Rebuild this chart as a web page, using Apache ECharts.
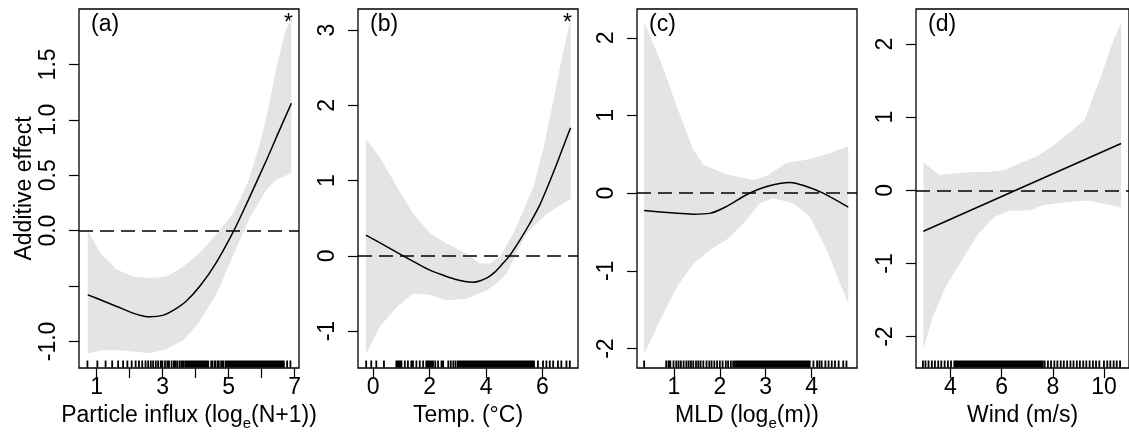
<!DOCTYPE html>
<html>
<head>
<meta charset="utf-8">
<script src="https://cdn.jsdelivr.net/npm/echarts@6/dist/echarts.min.js"></script>
<style>html,body{margin:0;padding:0;background:#fff}#c{width:1129px;height:441px}</style>
</head>
<body>
<div id="c"></div>
<script>
// ---------- data ----------
const panelLabels = ['(a)', '(b)', '(c)', '(d)'];
const panelStars = [true, true, false, false];
const yTitle = 'Additive effect';
const xTitleParts = [
  ['Particle influx (log', 'e', '(N+1))'],
  ['Temp. (°C)', '', ''],
  ['MLD (log', 'e', '(m))'],
  ['Wind (m/s)', '', '']
];
const xTicksA = [1, 2, 3, 4, 5, 6, 7];
const xLabelsA = [1, 3, 5, 7];
const xTicksB = [0, 2, 4, 6];
const xTicksC = [1, 2, 3, 4];
const xTicksD = [4, 6, 8, 10];
const yTicksA = [-1, -0.5, 0, 0.5, 1, 1.5];
const yLabelsA = [-1, 0, 0.5, 1, 1.5];
const yTicksB = [-1, 0, 1, 2, 3];
const yTicksC = [-2, -1, 0, 1, 2];
const yTicksD = [-2, -1, 0, 1, 2];

const lineA = [[0.73,-0.58],[1.2,-0.635],[1.61,-0.685],[2.1,-0.745],[2.4,-0.77],[2.62,-0.778],[3.0,-0.765],[3.32,-0.72],[3.7,-0.64],[4.13,-0.5],[4.6,-0.3],[5.14,-0.01],[5.6,0.28],[6.15,0.64],[6.5,0.88],[6.9,1.15]];
const upperA = [[0.73,0.0],[1.1,-0.2],[1.6,-0.35],[2.11,-0.415],[2.6,-0.43],[3.12,-0.415],[3.6,-0.33],[4.13,-0.2],[4.6,-0.04],[5.14,0.157],[5.6,0.45],[5.95,0.79],[6.2,1.1],[6.45,1.48],[6.7,1.78],[6.9,1.93]];
const lowerA = [[0.73,-1.107],[1.2,-1.08],[1.61,-1.08],[2.1,-1.09],[2.62,-1.107],[3.1,-1.07],[3.62,-0.99],[4.1,-0.83],[4.64,-0.565],[5.14,-0.22],[5.65,0.126],[6.15,0.37],[6.45,0.46],[6.9,0.52]];

const lineB = [[-0.26,0.275],[0.4,0.14],[1.06,0.0],[1.55,-0.1],[2.01,-0.19],[2.5,-0.26],[2.9,-0.31],[3.25,-0.34],[3.55,-0.35],[3.8,-0.33],[4.05,-0.29],[4.3,-0.22],[4.55,-0.12],[4.85,0.01],[5.2,0.21],[5.55,0.43],[5.91,0.68],[6.4,1.12],[6.91,1.62],[7.0,1.7]];
const upperB = [[-0.26,1.55],[0.24,1.31],[0.83,0.92],[1.42,0.56],[2.01,0.30],[2.6,0.165],[3.3,0.03],[3.78,-0.1],[4.14,-0.1],[4.5,-0.01],[4.97,0.30],[5.3,0.58],[5.68,0.92],[6.05,1.45],[6.39,2.07],[6.7,2.65],[7.0,3.15]];
const lowerB = [[-0.26,-1.30],[0.24,-0.94],[0.83,-0.68],[1.42,-0.5],[2.01,-0.52],[2.6,-0.59],[3.3,-0.57],[4.02,-0.46],[4.4,-0.36],[4.73,-0.235],[5.1,0.05],[5.44,0.30],[6.15,0.56],[7.0,0.76]];

const lineC = [[0.35,-0.224],[1.06,-0.26],[1.42,-0.27],[1.78,-0.26],[2.15,-0.17],[2.58,-0.02],[3.02,0.086],[3.53,0.138],[3.89,0.086],[4.25,0.0],[4.8,-0.18]];
const upperC = [[0.35,2.2],[0.695,1.72],[1.06,1.12],[1.42,0.56],[1.64,0.37],[2.15,0.24],[2.73,0.17],[3.02,0.22],[3.46,0.39],[3.89,0.43],[4.33,0.5],[4.8,0.6]];
const lowerC = [[0.35,-2.07],[0.695,-1.64],[1.06,-1.21],[1.42,-0.91],[1.78,-0.73],[2.15,-0.6],[2.58,-0.345],[2.87,-0.13],[3.16,-0.065],[3.6,-0.13],[3.96,-0.3],[4.33,-0.73],[4.62,-1.16],[4.8,-1.42]];

const lineD = [[2.94,-0.56],[10.67,0.64]];
const upperD = [[2.94,0.38],[3.18,0.32],[3.56,0.21],[4.19,0.23],[4.82,0.25],[5.45,0.25],[6.08,0.275],[6.71,0.37],[7.34,0.46],[7.98,0.6],[8.61,0.78],[9.24,0.96],[9.87,1.55],[10.37,2.05],[10.67,2.28]];
const lowerD = [[2.94,-2.17],[3.3,-1.74],[3.81,-1.32],[4.44,-0.96],[5.07,-0.6],[5.7,-0.365],[6.33,-0.275],[7.09,-0.275],[7.6,-0.205],[8.61,-0.16],[9.36,-0.14],[10.67,-0.23]];

const rugA = [0.72,1.02,1.27,1.47,1.65,1.80,1.93,2.06,2.18,2.28,2.38,2.48,2.56,2.64,2.71,2.79,2.86,2.94,2.99,3.07,3.14,3.19,3.27,3.34,3.39,3.45,3.52,3.58,3.62,3.68,3.73,3.78,3.83,3.88,3.92,3.96,4.00,4.03,4.06,4.09,4.12,4.15,4.18,4.21,4.24,4.27,4.31,4.35,4.38,4.47,4.50,4.57,4.60,4.67,4.70,4.77,4.80,4.84,4.91,4.95,4.99,5.03,5.07,5.11,5.15,5.19,5.23,5.27,5.31,5.35,5.39,5.43,5.47,5.51,5.55,5.59,5.63,5.67,5.71,5.75,5.79,5.83,5.87,5.91,5.95,5.99,6.03,6.07,6.11,6.15,6.19,6.23,6.27,6.31,6.35,6.39,6.43,6.47,6.51,6.55,6.59,6.62,6.67,6.77,6.87];
const rugB = [-0.25,-0.07,0.11,0.38,0.82,0.88,0.94,1.00,1.12,1.23,1.35,1.41,1.53,1.65,1.77,1.88,1.94,2.00,2.06,2.12,2.20,2.30,2.42,2.48,2.66,2.75,2.84,2.92,3.00,3.05,3.10,3.15,3.20,3.25,3.30,3.35,3.40,3.45,3.50,3.55,3.60,3.65,3.70,3.75,3.80,3.85,3.90,3.95,4.00,4.05,4.10,4.15,4.20,4.25,4.30,4.35,4.40,4.45,4.50,4.55,4.60,4.65,4.70,4.75,4.80,4.85,4.90,4.95,5.00,5.05,5.10,5.15,5.20,5.25,5.30,5.35,5.40,5.45,5.50,5.55,5.60,5.65,5.70,5.84,6.02,6.14,6.26,6.38,6.55,6.67,6.85,6.97];
const rugC = [0.35,0.83,0.88,0.92,0.99,1.05,1.10,1.15,1.21,1.27,1.32,1.37,1.42,1.48,1.53,1.58,1.64,1.71,1.77,1.82,1.88,1.94,2.00,2.06,2.13,2.18,2.24,2.29,2.33,2.37,2.40,2.43,2.46,2.49,2.52,2.55,2.58,2.61,2.64,2.67,2.70,2.73,2.76,2.79,2.82,2.85,2.88,2.91,2.94,2.97,3.00,3.03,3.06,3.09,3.12,3.15,3.18,3.21,3.24,3.27,3.30,3.33,3.36,3.39,3.42,3.45,3.48,3.51,3.54,3.57,3.60,3.63,3.66,3.69,3.72,3.75,3.78,3.81,3.84,3.87,3.90,3.93,3.96,4.04,4.12,4.17,4.22,4.30,4.37,4.44,4.51,4.59,4.69,4.76];
const rugD = [2.92,3.02,3.14,3.27,3.39,3.52,3.64,3.77,3.90,4.02,4.15,4.20,4.25,4.30,4.35,4.40,4.45,4.50,4.55,4.60,4.65,4.70,4.75,4.80,4.85,4.90,4.95,5.00,5.05,5.10,5.15,5.20,5.25,5.30,5.35,5.40,5.45,5.50,5.55,5.60,5.65,5.70,5.75,5.80,5.85,5.90,5.95,6.00,6.05,6.10,6.15,6.20,6.25,6.30,6.35,6.40,6.45,6.50,6.55,6.60,6.65,6.70,6.75,6.80,6.85,6.90,6.95,7.00,7.05,7.10,7.15,7.20,7.25,7.30,7.35,7.40,7.45,7.50,7.55,7.60,7.68,7.81,7.93,8.06,8.18,8.31,8.43,8.56,8.69,8.81,8.94,9.06,9.19,9.31,9.44,9.57,9.69,9.82,10.00,10.13,10.25,10.38,10.50,10.63];

// ---------- layout ----------
const FONT = '"Liberation Sans", Arial, Helvetica, sans-serif';
const FS = 23;
const gridLefts = [79, 358, 637, 916];
const gridTop = 9, gridW = 220, gridH = 359;
const xRanges = [[0.464, 7.13], [-0.54, 7.26], [0.194, 4.99], [2.65, 10.98]];
const yRanges = [[-1.24, 2.0], [-1.49, 3.28], [-2.25, 2.37], [-2.43, 2.48]];

const panels = [
  {line: lineA, upper: upperA, lower: lowerA, rug: rugA, xTicks: xTicksA, xLabels: xLabelsA, yTicks: yTicksA, yLabels: yLabelsA, yDec: 1},
  {line: lineB, upper: upperB, lower: lowerB, rug: rugB, xTicks: xTicksB, xLabels: xTicksB, yTicks: yTicksB, yLabels: yTicksB, yDec: 0},
  {line: lineC, upper: upperC, lower: lowerC, rug: rugC, xTicks: xTicksC, xLabels: xTicksC, yTicks: yTicksC, yLabels: yTicksC, yDec: 0},
  {line: lineD, upper: upperD, lower: lowerD, rug: rugD, xTicks: xTicksD, xLabels: xTicksD, yTicks: yTicksD, yLabels: yTicksD, yDec: 0}
];

const grids = [], xAxes = [], yAxes = [], series = [], graphics = [];

panels.forEach((p, i) => {
  grids.push({left: gridLefts[i], top: gridTop, width: gridW, height: gridH, show: true,
    borderColor: '#000', borderWidth: 1.3, backgroundColor: 'transparent', containLabel: false});
  const parts = xTitleParts[i];
  const xName = parts[1] ? '{n|' + parts[0] + '}{s|' + parts[1] + '}{n|' + parts[2] + '}' : '{n|' + parts[0] + '}';
  xAxes.push({type: 'value', gridIndex: i, min: xRanges[i][0], max: xRanges[i][1], position: 'bottom',
    name: xName, nameLocation: 'middle', nameGap: 26,
    nameTextStyle: {rich: {
      n: {fontFamily: FONT, fontSize: FS, color: '#000', verticalAlign: 'bottom', padding: [0, 0, 4, 0]},
      s: {fontFamily: FONT, fontSize: 15, color: '#000', verticalAlign: 'bottom'}
    }},
    splitLine: {show: false}, axisLine: {show: false, onZero: false},
    axisTick: {show: true, inside: false, length: 10, lineStyle: {color: '#000', width: 1.2}, customValues: p.xTicks},
    axisLabel: {show: true, margin: 8, color: '#000', fontFamily: FONT, fontSize: FS, customValues: p.xLabels,
      formatter: v => String(v)}
  });
  yAxes.push({type: 'value', gridIndex: i, min: yRanges[i][0], max: yRanges[i][1], position: 'left',
    name: i === 0 ? yTitle : '', nameLocation: 'middle', nameGap: 42, nameRotate: 90,
    nameTextStyle: {fontFamily: FONT, fontSize: FS, color: '#000'},
    splitLine: {show: false}, axisLine: {show: false, onZero: false},
    axisTick: {show: true, inside: false, length: 10, lineStyle: {color: '#000', width: 1.2}, customValues: p.yTicks},
    axisLabel: {show: true, rotate: 90, margin: 19, color: '#000', fontFamily: FONT, fontSize: FS, customValues: p.yLabels,
      formatter: (v) => Number(v).toFixed(p.yDec)}
  });
  const upper = p.upper, lower = p.lower;
  // confidence band
  series.push({type: 'custom', xAxisIndex: i, yAxisIndex: i, silent: true, z: 1, clip: true,
    data: [[upper[0][0], upper[0][1]]],
    renderItem: (params, api) => {
      const pts = upper.map(q => api.coord(q)).concat(lower.slice().reverse().map(q => api.coord(q)));
      return {type: 'polygon', shape: {points: pts, smooth: 0}, style: {fill: '#e4e4e4', stroke: null}};
    }
  });
  // rug: one path, every observation placed through the x scale
  const yMin = yRanges[i][0];
  const rug = p.rug;
  series.push({type: 'custom', xAxisIndex: i, yAxisIndex: i, silent: true, z: 2, clip: false,
    data: [[rug[0], yMin]],
    renderItem: (params, api) => {
      let d = '';
      rug.forEach(v => {
        const c = api.coord([v, yMin]);
        d += 'M' + c[0].toFixed(2) + ' ' + (c[1] - 0.5).toFixed(2) + 'L' + c[0].toFixed(2) + ' ' + (c[1] - 7.5).toFixed(2);
      });
      return {type: 'path', shape: {pathData: d}, style: {stroke: '#000', lineWidth: 1.8, fill: null}};
    }
  });
  // fitted smooth
  series.push({type: 'line', xAxisIndex: i, yAxisIndex: i, data: p.line, smooth: 0.3, showSymbol: false, silent: true, z: 4,
    lineStyle: {color: '#000', width: 1.5},
    markLine: {silent: true, symbol: ['none', 'none'], label: {show: false}, animation: false,
      lineStyle: {color: '#000', width: 1.6, type: [14, 7]}, data: [{yAxis: 0}]}
  });
  graphics.push({type: 'text', left: gridLefts[i] + 12, top: 13,
    style: {text: panelLabels[i], font: FS + 'px ' + FONT, fill: '#000'}});
  if (panelStars[i]) {
    graphics.push({type: 'text', left: gridLefts[i] + gridW - 15, top: 12,
      style: {text: '*', font: FS + 'px ' + FONT, fill: '#000'}});
  }
});

const chart = echarts.init(document.getElementById('c'), null, {renderer: 'canvas'});
chart.setOption({
  animation: false,
  backgroundColor: '#fff',
  grid: grids, xAxis: xAxes, yAxis: yAxes, series: series, graphic: graphics
});
</script>
</body>
</html>
